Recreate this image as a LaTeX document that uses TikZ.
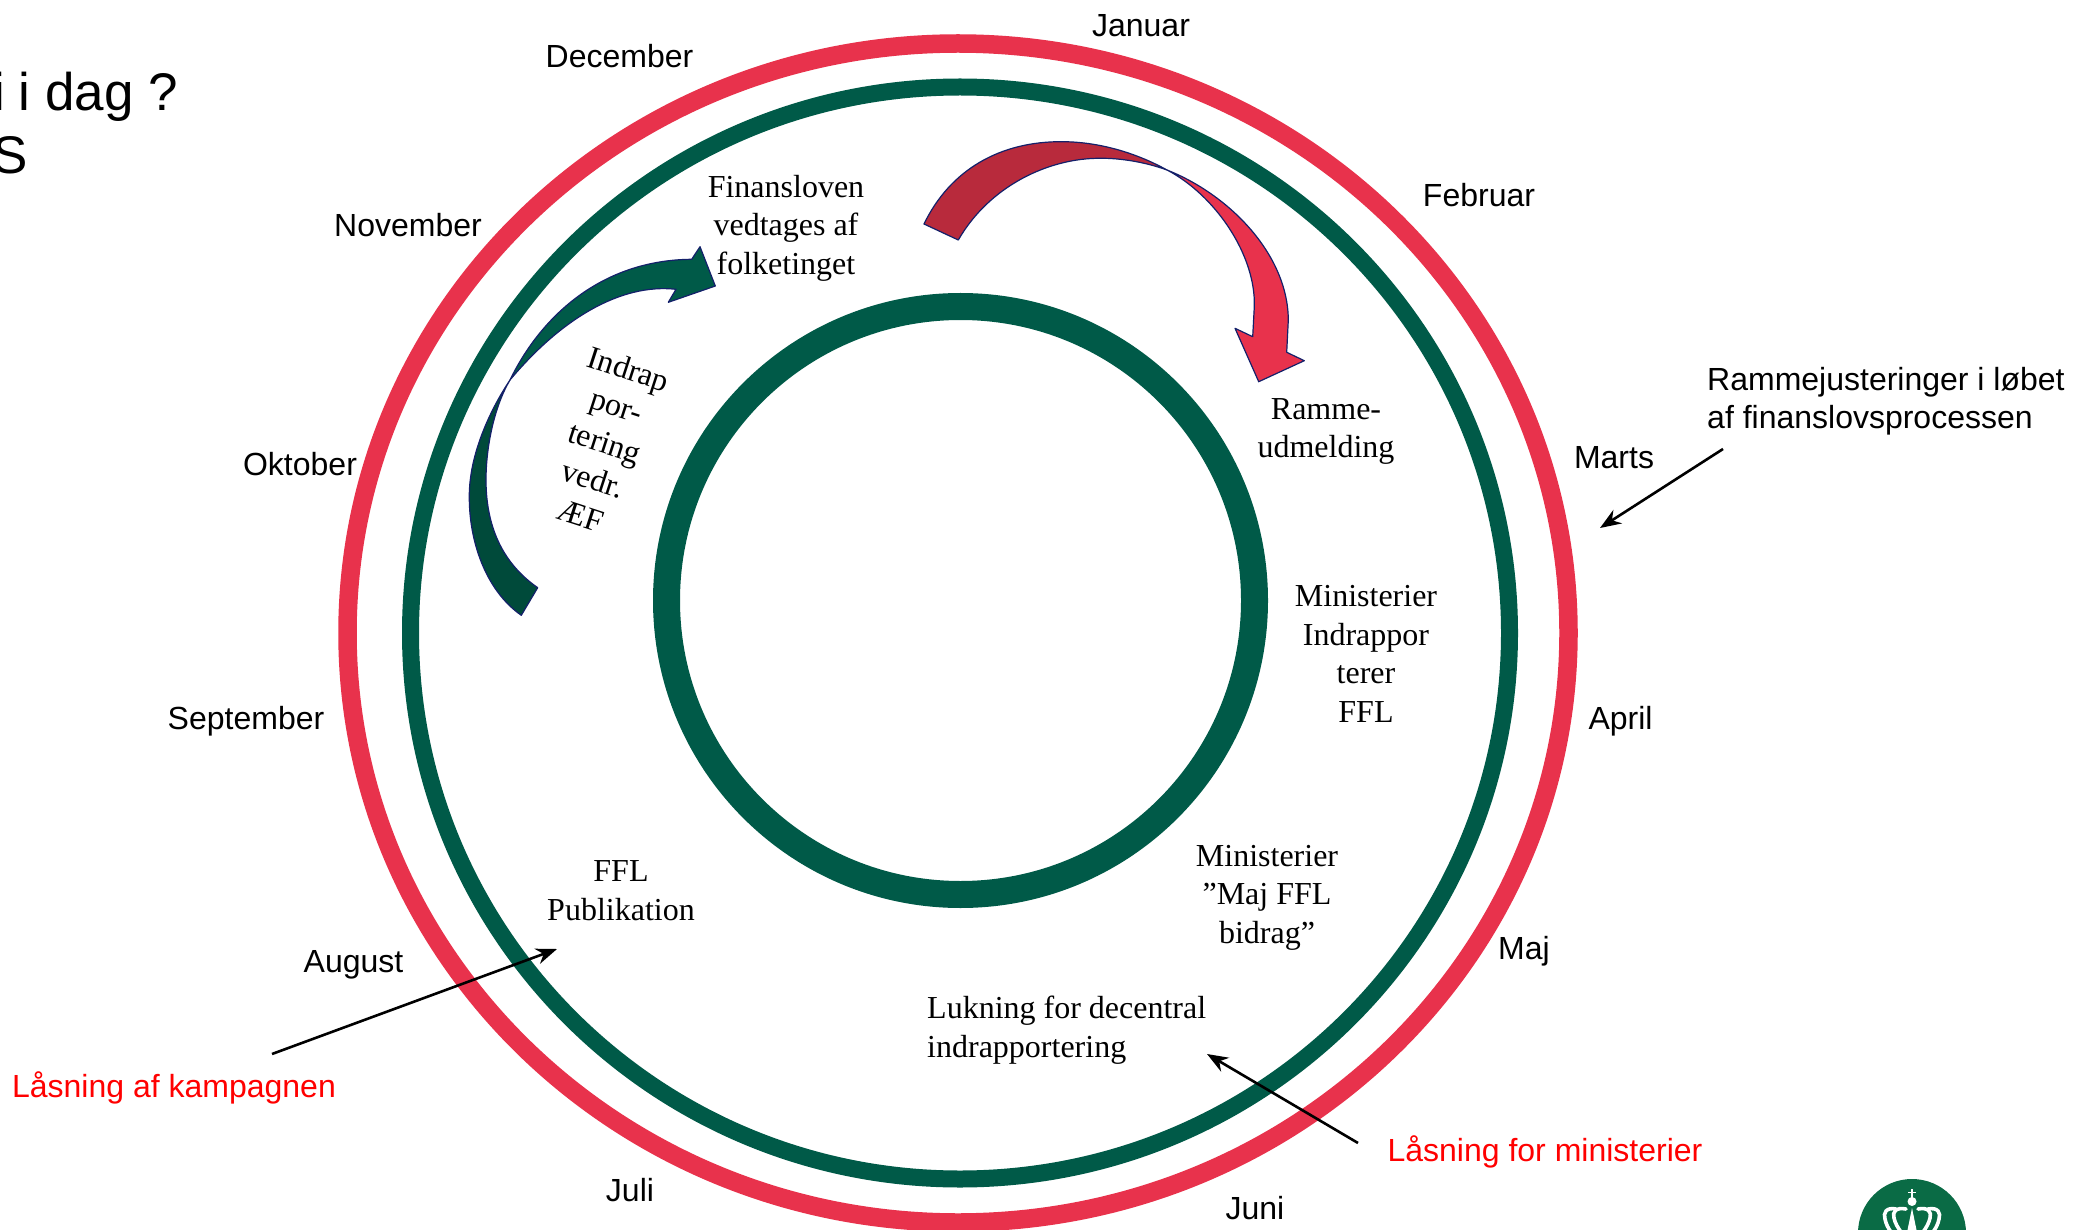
\documentclass[tikz,border=0pt]{standalone}
\usepackage{fontspec}
\setmainfont{Liberation Serif}
\newfontfamily\lsans{Liberation Sans}
\usetikzlibrary{arrows.meta}
\definecolor{ringred}{HTML}{E8324C}
\definecolor{ringdark}{HTML}{B82A3C}
\definecolor{ringgreen}{HTML}{005A48}
\definecolor{deepgreen}{HTML}{004A3A}
\definecolor{edgeblue}{HTML}{14206A}
\definecolor{logogreen}{HTML}{0A6B45}
\tikzset{
  month/.style={font=\lsans\fontsize{32}{38}\selectfont,inner sep=0pt,align=center},
  note/.style={font=\fontsize{32}{38.5}\selectfont,inner sep=0pt,align=center},
  lock/.style={font=\lsans\fontsize{32}{38}\selectfont,inner sep=0pt,text={rgb,255:red,255;green,0;blue,0}},
  pointer/.style={draw=black,line width=2.6pt,-{Stealth[length=21pt,width=16pt]}},
  bandedge/.style={draw=edgeblue,line width=1.2pt,line join=round},
  crownline/.style={draw=white,line width=3.6pt,line cap=round},
}
\begin{document}
\begin{tikzpicture}[x=1pt,y=-1pt]
\useasboundingbox (0,0) rectangle (2075,1230);
% rings
\draw[ringred,line width=18.5pt] (958,633) ellipse [x radius=610.5,y radius=589.5];
\draw[ringgreen,line width=17pt] (960,633) ellipse [x radius=549.5,y radius=546];
\draw[ringgreen,line width=27pt] (960.5,600.5) circle [radius=294];
% red curved arrow
\path[bandedge,fill=ringdark] (924,224) .. controls (950,170) and (1000,141) .. (1063,141.7)
  .. controls (1103,142) and (1140,155) .. (1167,170)
  .. controls (1145,162) and (1120,158) .. (1100,158.3)
  .. controls (1050,158) and (990,185) .. (958.3,240) -- cycle;
\path[bandedge,fill=ringred] (1167,170) .. controls (1230,195) and (1288,255) .. (1288.3,320)
  -- (1286.7,352.3) -- (1304.3,360.7) -- (1258.7,381.7) -- (1235,328.3) -- (1252.7,336.7)
  -- (1254.3,306.7) .. controls (1256,255) and (1215,195) .. (1167,170) -- cycle;
% green curved arrow
\path[bandedge,fill=deepgreen] (521.3,615.3) .. controls (485,590) and (469,540) .. (469.3,496.7)
  .. controls (469,455) and (490,410) .. (510,380)
  .. controls (495,405) and (486,445) .. (486,480)
  .. controls (486,530) and (505,565) .. (537.7,587.7) -- cycle;
\path[bandedge,fill=ringgreen] (510,380) .. controls (540,318) and (600,260) .. (691.7,259.3)
  -- (700,246.7) -- (715.3,286) -- (668.3,302.3) -- (676,289.3)
  .. controls (620,283) and (560,320) .. (510,380) -- cycle;
% months
\node[month] (jan) at (1141,26) {Januar};
\node[month] (dec) at (619.5,56) {December};
\node[month] (feb) at (1479,195) {Februar};
\node[month] (nov) at (408,225) {November};
\node[month] (mar) at (1614,458) {Marts};
\node[month] (okt) at (300,464) {Oktober};
\node[month] (apr) at (1620.5,721) {April};
\node[month] (sep) at (246,721) {September};
\node[month] (maj) at (1524,951) {Maj};
\node[month] (aug) at (353.5,965) {August};
\node[month] (jul) at (630,1190) {Juli};
\node[month] (jun) at (1255,1208) {Juni};
% title fragments
\node[font=\lsans\fontsize{53}{60}\selectfont,inner sep=0pt,anchor=base west] (titleone) at (-7,111) {i\kern-1pt{} i dag ?};
\node[font=\lsans\fontsize{53}{60}\selectfont,inner sep=0pt,anchor=base west] (titletwo) at (-8,174) {S};
% notes
\node[note] (finans) at (786,228) {Finansloven\\vedtages af\\folketinget};
\node[note] (ramme) at (1326,431.5) {Ramme-\\udmelding};
\node[note] (minone) at (1366,654) {Ministerier\\Indrappor\\terer\\FFL};
\node[note] (mintwo) at (1267,897.5) {Ministerier\\”Maj FFL\\bidrag”};
\node[note,align=left,anchor=west] (lukning) at (927,1030) {Lukning for decentral\\indrapportering};
\node[note] (ffl) at (621,890.5) {FFL\\Publikation};
\node[note,rotate=-18] (indrap) at (605,442) {Indrap\\por-\\tering\\vedr.\\ÆF};
\node[font=\lsans\fontsize{32}{38}\selectfont,inner sep=0pt,align=left,anchor=west] (rammejust) at (1707,401.5) {Rammejusteringer i løbet\\af finanslovsprocessen};
\node[lock] (lockkamp) at (174,1088) {Låsning af kampagnen};
\node[lock] (lockmin) at (1545,1152) {Låsning for ministerier};
% pointers
\coordinate (ramstart) at (1723,449); \coordinate (ramend) at (1600,528);
\coordinate (kampstart) at (272,1054); \coordinate (kampend) at (557,949);
\coordinate (minstart) at (1358,1143); \coordinate (minend) at (1207,1054);
\draw[pointer] (ramstart) -- (ramend);
\draw[pointer] (kampstart) -- (kampend);
\draw[pointer] (minstart) -- (minend);
% logo
\fill[logogreen] (1912,1233) circle [radius=54];
\fill[white] (1912,1201.5) circle [radius=4.5];
\draw[white,line width=1.5pt] (1912,1189) -- (1912,1198) (1908,1192.5) -- (1916,1192.5);
\fill[white] (1912,1208) -- (1916.5,1230) -- (1907.5,1230) -- cycle;
\draw[crownline] (1906,1209) .. controls (1896,1207) and (1892,1212) .. (1894,1218) .. controls (1895,1223) and (1898,1228) .. (1901,1232);
\draw[crownline] (1918,1209) .. controls (1928,1207) and (1932,1212) .. (1930,1218) .. controls (1929,1223) and (1926,1228) .. (1923,1232);
\draw[crownline] (1896,1209) .. controls (1886,1207) and (1883,1213) .. (1885,1219) .. controls (1886,1224) and (1888,1228) .. (1891,1232);
\draw[crownline] (1928,1209) .. controls (1938,1207) and (1941,1213) .. (1939,1219) .. controls (1938,1224) and (1936,1228) .. (1933,1232);
\end{tikzpicture}
\end{document}
